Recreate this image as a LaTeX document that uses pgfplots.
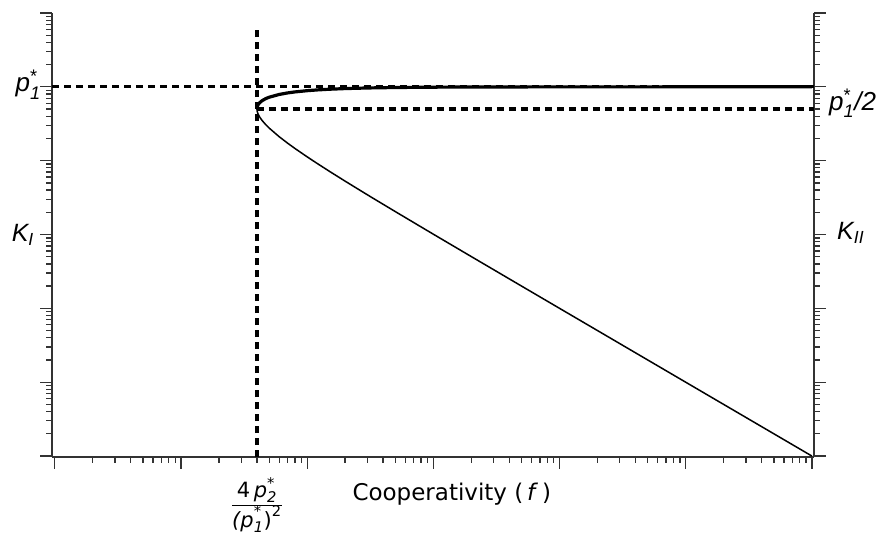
\documentclass[border=0pt]{standalone}
\usepackage{fontspec}
\usepackage{amsmath}
\usepackage{pgfplots}
\pgfplotsset{compat=1.18}
\setmainfont{Liberation Sans}
\newfontfamily\dv{DejaVu Sans}
\begin{document}
\begin{tikzpicture}
\useasboundingbox (-52pt,-79pt) rectangle (825pt,457pt);
\begin{axis}[
  at={(0,0)}, anchor=south west,
  scale only axis, width=762pt, height=444pt,
  xmode=log, ymode=log,
  xmin=0.95, xmax=1.04e6, ymin=0.97e-5, ymax=10,
  axis x line=bottom, axis y line=box,
  axis line style={-, line width=1.6pt, black!80},
  xtick={1,10,100,1000,1e4,1e5,1e6},
  minor xtick={2,3,4,5,6,7,8,9,20,30,40,50,60,70,80,90,200,300,400,500,600,700,800,900,2e3,3e3,4e3,5e3,6e3,7e3,8e3,9e3,2e4,3e4,4e4,5e4,6e4,7e4,8e4,9e4,2e5,3e5,4e5,5e5,6e5,7e5,8e5,9e5},
  ytick={1e-5,1e-4,1e-3,1e-2,1e-1,1,10},
  minor ytick={2e-5,3e-5,4e-5,5e-5,6e-5,7e-5,8e-5,9e-5,2e-4,3e-4,4e-4,5e-4,6e-4,7e-4,8e-4,9e-4,2e-3,3e-3,4e-3,5e-3,6e-3,7e-3,8e-3,9e-3,2e-2,3e-2,4e-2,5e-2,6e-2,7e-2,8e-2,9e-2,0.2,0.3,0.4,0.5,0.6,0.7,0.8,0.9,2,3,4,5,6,7,8,9},
  xticklabels={}, yticklabels={},
  tick align=outside,
  major tick length=12pt, minor tick length=6pt,
  every tick/.style={line width=1.3pt, black!80},
  clip=false,
]
% dashed guide lines
\addplot[black, line width=3.2pt, dash pattern=on 7pt off 5pt] coordinates {(40,0.97e-5)(40,5.9)};
\addplot[black, line width=3.2pt, dash pattern=on 7pt off 5pt] coordinates {(0.95,1)(1.04e6,1)};
\addplot[black, line width=3.2pt, dash pattern=on 7pt off 5pt] coordinates {(40,0.5)(1.04e6,0.5)};
% K_I (upper branch)
\addplot[black, line width=3.2pt] coordinates {
(40,0.5)(40.1,0.52497)(40.2,0.5353)(40.5,0.5556)(41,0.5781)(42,0.6091)(44,0.6508)(47,0.6930)(50,0.7236)(60,0.7887)(70,0.8273)(80,0.8536)(100,0.8873)(120,0.9082)(150,0.9282)(200,0.9472)(300,0.9655)(500,0.9796)(1000,0.9899)(2000,0.99497)(5000,0.998)(10000,0.999)(100000,0.9999)(1000000,1)};
% K_II (lower branch)
\addplot[black, line width=1.5pt] coordinates {
(40,0.5)(40.1,0.47503)(40.2,0.4647)(40.5,0.4444)(41,0.4219)(42,0.3909)(44,0.3492)(47,0.3070)(50,0.2764)(60,0.2113)(70,0.1727)(80,0.1464)(100,0.1127)(120,0.0918)(150,0.07183)(200,0.05279)(300,0.03452)(500,0.02042)(1000,0.0101)(2000,0.005025)(5000,0.002004)(10000,0.001001)(100000,0.0001)(1000000,0.00001)};
% labels
\node[anchor=base east, inner sep=0pt, font=\fontsize{26}{30}\selectfont] at (axis cs:0.95,1) [xshift=-11pt, yshift=-5pt] {$\textit{p}_{\textit{1}}^{\text{*}}$};
\node[anchor=base east, inner sep=0pt, font=\fontsize{25}{30}\selectfont] at (axis cs:0.95,1e-2) [xshift=-18pt, yshift=-7pt] {$\textit{K}_{\textit{I}}$};
\node[anchor=base west, inner sep=0pt, font=\fontsize{26}{30}\selectfont] at (axis cs:1.04e6,0.5) [xshift=15pt, yshift=-1pt] {$\textit{p}_{\textit{1}}^{\text{*}}\textit{/2}$};
\node[anchor=base west, inner sep=0pt, font=\fontsize{25}{30}\selectfont] at (axis cs:1.04e6,1e-2) [xshift=23pt, yshift=-5pt] {$\textit{K}_{\textit{II}}$};
\node[anchor=north, inner sep=0pt, font=\dv\fontsize{21}{19}\selectfont] at (axis cs:40,0.97e-5) [yshift=-20pt] {\setlength{\arrayrulewidth}{1.4pt}\begin{tabular}{@{}c@{}}$\text{4\,\itshape p}_{\textit{2}}^{\text{*}}$\\[1pt]\hline\rule{0pt}{17pt}$\text{\itshape(p}_{\textit{1}}^{\text{*}}\text{)}^{\text{2}}$\end{tabular}};
\node[anchor=base west, inner sep=0pt, font=\dv\fontsize{23}{27}\selectfont] at (axis cs:228,0.97e-5) [yshift=-43pt] {Cooperativity (\,\textit{f}\,)};
\end{axis}
\end{tikzpicture}
\end{document}
